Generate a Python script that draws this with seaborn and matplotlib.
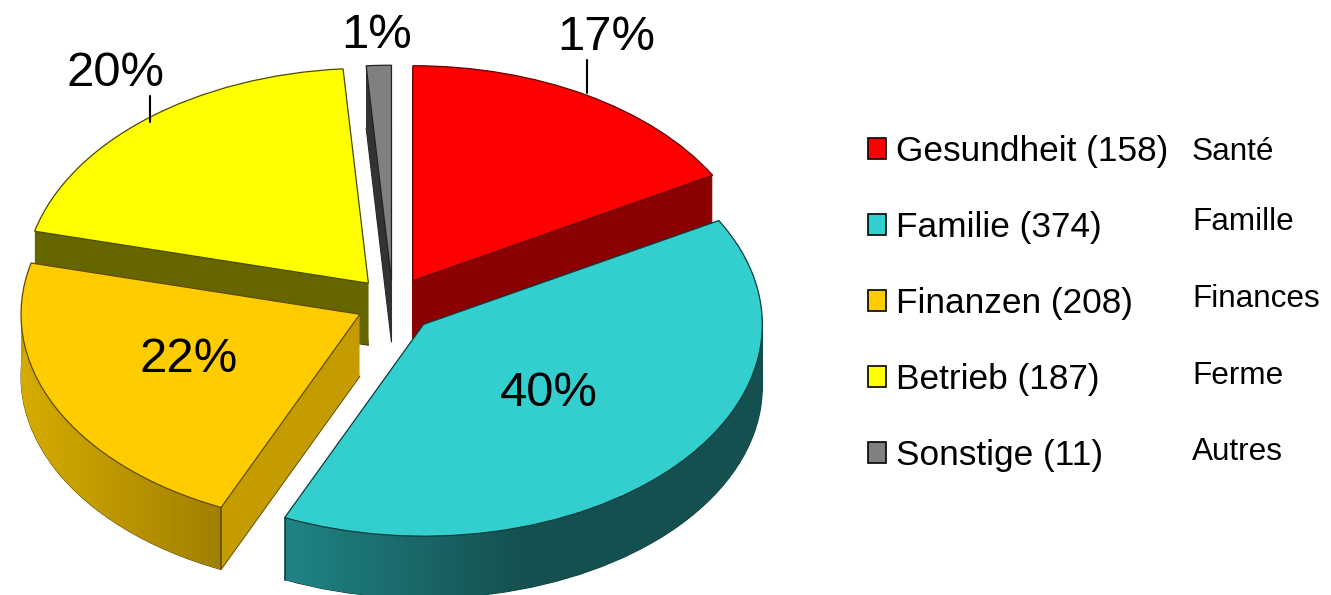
import numpy as np
import matplotlib
matplotlib.use('Agg')
import matplotlib.pyplot as plt
from matplotlib.lines import Line2D
from matplotlib.patches import Patch, Polygon
import seaborn as sns

# data
names = ['Gesundheit', 'Familie', 'Finanzen', 'Betrieb', 'Sonstige']
names_fr = ['Santé', 'Famille', 'Finances', 'Ferme', 'Autres']
values = [158, 374, 208, 187, 11]

top_colors = ['#ff0000', '#33cfcf', '#ffcc00', '#ffff00', '#808080']
wall_colors = ['#8b0000', '#155050', '#c49c00', '#666600', '#333333']
edge_colors = ['#600000', '#0e3c3c', '#604c00', '#4a4a00', '#222222']

W, H = 1331, 595
# pie centre and squashed radii in pixels
cx, cy = 393, 302
rx, ry = 344, 215
depth = 62
explode = [0.12, 0.12, 0.12, 0.12, 0.12]
# small extra slice shifts in pixels (x right, y down), the source is not quite radial
nudge = [(-1, 1), (0, 5), (4, 1), (2, 1), (0, 4)]
slice_r = [1, 0.985, 0.985, 1, 1]
# back to front
draw_order = [4, 3, 0, 2, 1]

sns.set_theme(style='white')
plt.rcParams['font.family'] = ['Liberation Sans', 'DejaVu Sans']

fig = plt.figure(figsize=(W / 100, H / 100), dpi=100)
ax = fig.add_axes([0, 0, 1, 1])


def pie_layer(colors, drop=0, **kw):
    wedges, _ = ax.pie(values, colors=colors, explode=explode, startangle=90,
                       counterclock=False, center=(0, -drop / ry),
                       wedgeprops=kw)
    for w, (nx, ny), r in zip(wedges, nudge, slice_r):
        w.set_center((w.center[0] + nx / rx, w.center[1] - ny / ry))
        w.set_radius(r)
    return wedges


# side walls as a stack of pies going down
for d in range(depth, 0, -1):
    for i, w in enumerate(pie_layer(wall_colors, d, linewidth=0)):
        w.set_zorder(draw_order.index(i) * 10 + 1)
        if d == depth:
            w.set_linewidth(0.8)
            w.set_edgecolor(edge_colors[i])

top = pie_layer(top_colors, 0, linewidth=0.9)
for i, w in enumerate(top):
    w.set_edgecolor(edge_colors[i])
    w.set_zorder(draw_order.index(i) * 10 + 3)

# shaded outer rim of the two front slices
for i, shades in [(1, ['#208484', '#155050', '#155050']),
                  (2, ['#d6ac00', '#a08000'])]:
    w = top[i]
    a = np.radians(np.linspace(w.theta1, w.theta2, 200))
    px = w.center[0] + w.r * np.cos(a)
    py = w.center[1] + w.r * np.sin(a)
    outline = np.r_[np.c_[px, py], np.c_[px, py - depth / ry][::-1]]
    im = ax.imshow(np.linspace(0, 1, 256)[None, :], aspect='auto',
                   cmap=sns.blend_palette(shades, as_cmap=True),
                   extent=(px.min(), px.max(), (py - depth / ry).min(), py.max()),
                   zorder=draw_order.index(i) * 10 + 2)
    im.set_clip_path(Polygon(outline, transform=ax.transData))
    # dark vertical edge at the front corner of the rim
    k = 0 if i == 1 else -1
    ax.plot([px[k], px[k]], [py[k], py[k] - depth / ry], color=edge_colors[i], lw=1.2,
            zorder=draw_order.index(i) * 10 + 2.5)

ax.set_aspect('auto')
ax.set_xlim(-cx / rx, (W - cx) / rx)
ax.set_ylim((cy - H) / ry, cy / ry)
ax.axis('off')


def fx(x):
    return x / W


def fy(y):
    return 1 - y / H


# percent labels, same order as values
total = sum(values)
label_pos = [(606, 38), (549, 394), (189, 359), (115, 74), (377, 36)]
for v, (x, y) in zip(values, label_pos):
    fig.text(fx(x), fy(y), f'{v / total:.0%}', fontsize=35.3, color='black',
             ha='center', va='center', zorder=50)

# leader lines
for x, y0, y1 in [(587, 60, 93), (150, 96, 122)]:
    fig.add_artist(Line2D([fx(x), fx(x)], [fy(y0), fy(y1)], color='black', lw=1.5,
                          zorder=50))

# legend
handles = [Patch(facecolor=c, edgecolor='black', linewidth=1.2) for c in top_colors]
labels = [f'{n} ({v})' for n, v in zip(names, values)]
fig.legend(handles, labels, loc='upper left', bbox_to_anchor=(fx(868), fy(135)),
           frameon=False, fontsize=25.4, labelcolor='black', handlelength=0.52,
           handleheight=0.52, handletextpad=0.28, labelspacing=1.22, borderpad=0,
           borderaxespad=0)

fr_y = [152, 222, 299, 376, 452]
for n, y in zip(names_fr, fr_y):
    fig.text(fx(1192), fy(y), n, fontsize=22.7, color='black', ha='left', va='center')

fig.savefig('out.png', dpi=100)
